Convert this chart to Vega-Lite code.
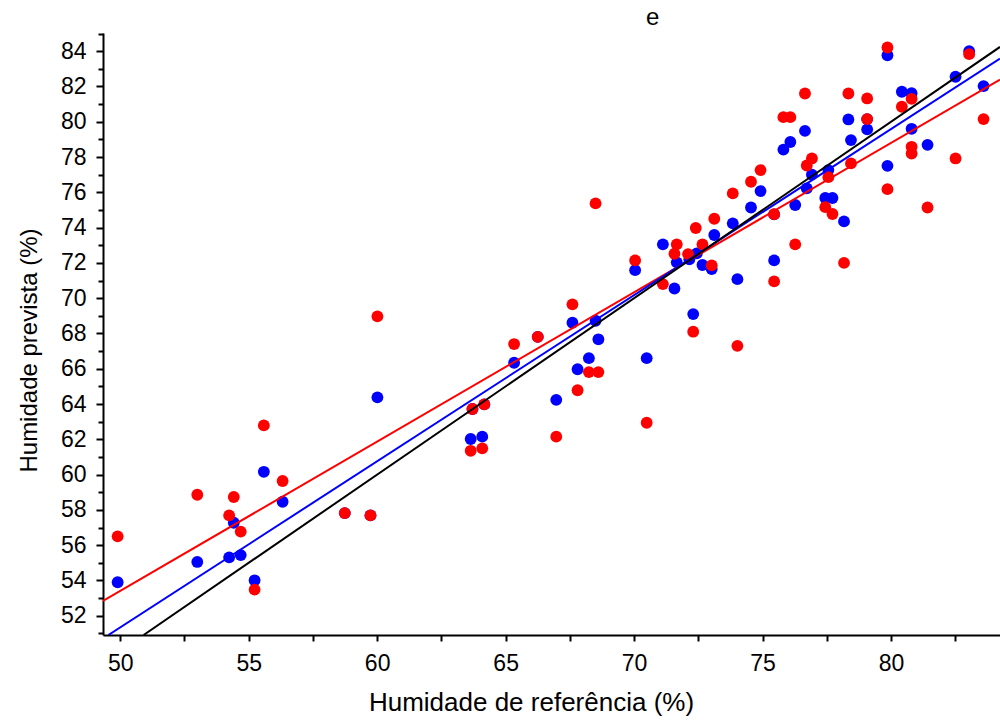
{
  "$schema": "https://vega.github.io/schema/vega-lite/v6.json",
  "width": 897,
  "height": 602,
  "autosize": {"type": "none"},
  "padding": {"left": 103, "top": 33, "right": 0, "bottom": 87},
  "background": "white",
  "title": {"text": "e", "anchor": "start", "frame": "group", "dx": 543, "fontSize": 24, "font": "Liberation Sans", "fontWeight": "normal", "color": "black", "offset": 3},
  "config": {
    "view": {"stroke": null},
    "axis": {"grid": false, "domainColor": "black", "tickColor": "black", "labelColor": "black", "titleColor": "black", "labelFont": "Liberation Sans", "titleFont": "Liberation Sans", "titleFontWeight": "normal", "domainWidth": 2, "tickWidth": 2}
  },
  "datasets": {
    "pts": [
      {"ref": 49.9, "prev": 53.9, "serie": "A"},
      {"ref": 53.0, "prev": 55.05, "serie": "A"},
      {"ref": 54.24, "prev": 55.31, "serie": "A"},
      {"ref": 54.42, "prev": 57.27, "serie": "A"},
      {"ref": 54.69, "prev": 55.44, "serie": "A"},
      {"ref": 55.23, "prev": 54.01, "serie": "A"},
      {"ref": 55.59, "prev": 60.16, "serie": "A"},
      {"ref": 56.32, "prev": 58.46, "serie": "A"},
      {"ref": 58.74, "prev": 57.82, "serie": "A"},
      {"ref": 59.74, "prev": 57.69, "serie": "A"},
      {"ref": 60.01, "prev": 64.38, "serie": "A"},
      {"ref": 63.64, "prev": 62.02, "serie": "A"},
      {"ref": 63.71, "prev": 63.72, "serie": "A"},
      {"ref": 64.09, "prev": 62.15, "serie": "A"},
      {"ref": 64.17, "prev": 63.98, "serie": "A"},
      {"ref": 65.33, "prev": 66.34, "serie": "A"},
      {"ref": 66.25, "prev": 67.81, "serie": "A"},
      {"ref": 66.97, "prev": 64.24, "serie": "A"},
      {"ref": 67.6, "prev": 68.61, "serie": "A"},
      {"ref": 67.8, "prev": 65.97, "serie": "A"},
      {"ref": 68.24, "prev": 66.6, "serie": "A"},
      {"ref": 68.5, "prev": 68.72, "serie": "A"},
      {"ref": 68.61, "prev": 67.67, "serie": "A"},
      {"ref": 70.04, "prev": 71.59, "serie": "A"},
      {"ref": 70.49, "prev": 66.6, "serie": "A"},
      {"ref": 71.12, "prev": 73.05, "serie": "A"},
      {"ref": 71.57, "prev": 70.55, "serie": "A"},
      {"ref": 71.66, "prev": 72.03, "serie": "A"},
      {"ref": 72.15, "prev": 72.2, "serie": "A"},
      {"ref": 72.3, "prev": 69.1, "serie": "A"},
      {"ref": 72.44, "prev": 72.54, "serie": "A"},
      {"ref": 72.66, "prev": 71.88, "serie": "A"},
      {"ref": 73.02, "prev": 71.65, "serie": "A"},
      {"ref": 73.12, "prev": 73.58, "serie": "A"},
      {"ref": 73.84, "prev": 74.24, "serie": "A"},
      {"ref": 74.02, "prev": 71.08, "serie": "A"},
      {"ref": 74.55, "prev": 75.14, "serie": "A"},
      {"ref": 74.92, "prev": 76.07, "serie": "A"},
      {"ref": 75.45, "prev": 72.14, "serie": "A"},
      {"ref": 75.45, "prev": 74.75, "serie": "A"},
      {"ref": 75.81, "prev": 78.42, "serie": "A"},
      {"ref": 76.08, "prev": 78.85, "serie": "A"},
      {"ref": 76.27, "prev": 75.28, "serie": "A"},
      {"ref": 76.65, "prev": 79.48, "serie": "A"},
      {"ref": 76.72, "prev": 76.22, "serie": "A"},
      {"ref": 76.92, "prev": 77.0, "serie": "A"},
      {"ref": 77.44, "prev": 75.68, "serie": "A"},
      {"ref": 77.56, "prev": 77.26, "serie": "A"},
      {"ref": 77.72, "prev": 75.68, "serie": "A"},
      {"ref": 78.17, "prev": 74.35, "serie": "A"},
      {"ref": 78.34, "prev": 80.13, "serie": "A"},
      {"ref": 78.44, "prev": 78.96, "serie": "A"},
      {"ref": 79.07, "prev": 79.57, "serie": "A"},
      {"ref": 79.07, "prev": 80.15, "serie": "A"},
      {"ref": 79.86, "prev": 83.77, "serie": "A"},
      {"ref": 79.86, "prev": 77.5, "serie": "A"},
      {"ref": 80.42, "prev": 81.7, "serie": "A"},
      {"ref": 80.8, "prev": 81.62, "serie": "A"},
      {"ref": 80.8, "prev": 79.6, "serie": "A"},
      {"ref": 81.42, "prev": 78.69, "serie": "A"},
      {"ref": 82.51, "prev": 82.55, "serie": "A"},
      {"ref": 83.04, "prev": 84.0, "serie": "A"},
      {"ref": 83.6, "prev": 82.02, "serie": "A"},
      {"ref": 49.9, "prev": 56.5, "serie": "B"},
      {"ref": 53.0, "prev": 58.86, "serie": "B"},
      {"ref": 54.24, "prev": 57.69, "serie": "B"},
      {"ref": 54.42, "prev": 58.73, "serie": "B"},
      {"ref": 54.69, "prev": 56.77, "serie": "B"},
      {"ref": 55.23, "prev": 53.48, "serie": "B"},
      {"ref": 55.59, "prev": 62.79, "serie": "B"},
      {"ref": 56.32, "prev": 59.64, "serie": "B"},
      {"ref": 58.74, "prev": 57.82, "serie": "B"},
      {"ref": 59.74, "prev": 57.69, "serie": "B"},
      {"ref": 60.01, "prev": 68.97, "serie": "B"},
      {"ref": 63.64, "prev": 61.35, "serie": "B"},
      {"ref": 63.71, "prev": 63.72, "serie": "B"},
      {"ref": 64.09, "prev": 61.49, "serie": "B"},
      {"ref": 64.17, "prev": 63.98, "serie": "B"},
      {"ref": 65.33, "prev": 67.4, "serie": "B"},
      {"ref": 66.25, "prev": 67.81, "serie": "B"},
      {"ref": 66.97, "prev": 62.15, "serie": "B"},
      {"ref": 67.6, "prev": 69.65, "serie": "B"},
      {"ref": 67.8, "prev": 64.78, "serie": "B"},
      {"ref": 68.24, "prev": 65.81, "serie": "B"},
      {"ref": 68.5, "prev": 75.37, "serie": "B"},
      {"ref": 68.61, "prev": 65.81, "serie": "B"},
      {"ref": 70.04, "prev": 72.14, "serie": "B"},
      {"ref": 70.49, "prev": 62.94, "serie": "B"},
      {"ref": 71.12, "prev": 70.8, "serie": "B"},
      {"ref": 71.57, "prev": 72.52, "serie": "B"},
      {"ref": 71.66, "prev": 73.05, "serie": "B"},
      {"ref": 72.1, "prev": 72.5, "serie": "B"},
      {"ref": 72.3, "prev": 68.1, "serie": "B"},
      {"ref": 72.4, "prev": 73.98, "serie": "B"},
      {"ref": 72.66, "prev": 73.05, "serie": "B"},
      {"ref": 73.02, "prev": 71.86, "serie": "B"},
      {"ref": 73.12, "prev": 74.5, "serie": "B"},
      {"ref": 73.84, "prev": 75.94, "serie": "B"},
      {"ref": 74.02, "prev": 67.3, "serie": "B"},
      {"ref": 74.55, "prev": 76.6, "serie": "B"},
      {"ref": 74.92, "prev": 77.26, "serie": "B"},
      {"ref": 75.45, "prev": 70.95, "serie": "B"},
      {"ref": 75.45, "prev": 74.76, "serie": "B"},
      {"ref": 75.81, "prev": 80.26, "serie": "B"},
      {"ref": 76.08, "prev": 80.26, "serie": "B"},
      {"ref": 76.27, "prev": 73.05, "serie": "B"},
      {"ref": 76.65, "prev": 81.6, "serie": "B"},
      {"ref": 76.72, "prev": 77.52, "serie": "B"},
      {"ref": 76.92, "prev": 77.92, "serie": "B"},
      {"ref": 77.44, "prev": 75.16, "serie": "B"},
      {"ref": 77.56, "prev": 76.86, "serie": "B"},
      {"ref": 77.72, "prev": 74.77, "serie": "B"},
      {"ref": 78.17, "prev": 72.0, "serie": "B"},
      {"ref": 78.34, "prev": 81.6, "serie": "B"},
      {"ref": 78.44, "prev": 77.64, "serie": "B"},
      {"ref": 79.07, "prev": 81.32, "serie": "B"},
      {"ref": 79.07, "prev": 80.15, "serie": "B"},
      {"ref": 79.86, "prev": 84.21, "serie": "B"},
      {"ref": 79.86, "prev": 76.18, "serie": "B"},
      {"ref": 80.42, "prev": 80.85, "serie": "B"},
      {"ref": 80.8, "prev": 81.3, "serie": "B"},
      {"ref": 80.8, "prev": 78.58, "serie": "B"},
      {"ref": 80.8, "prev": 78.2, "serie": "B"},
      {"ref": 81.42, "prev": 75.14, "serie": "B"},
      {"ref": 82.51, "prev": 77.92, "serie": "B"},
      {"ref": 83.04, "prev": 83.83, "serie": "B"},
      {"ref": 83.6, "prev": 80.15, "serie": "B"}
    ],
    "fits": [
      {"ref": 49.33, "prev": 52.84, "serie": "B"},
      {"ref": 84.24, "prev": 82.39, "serie": "B"},
      {"ref": 49.54, "prev": 50.91, "serie": "A"},
      {"ref": 84.24, "prev": 83.58, "serie": "A"},
      {"ref": 50.91, "prev": 50.91, "serie": "1:1"},
      {"ref": 84.24, "prev": 84.24, "serie": "1:1"}
    ]
  },
  "layer": [
    {
      "data": {"name": "pts"},
      "mark": {"type": "point", "shape": "circle", "filled": true, "opacity": 1, "size": 140, "strokeWidth": 0},
      "encoding": {
        "x": {"field": "ref", "type": "quantitative",
          "scale": {"domain": [49.33, 84.24], "nice": false, "zero": false},
          "axis": {"orient": "bottom", "values": [50, 55, 60, 65, 70, 75, 80], "tickSize": 6, "labelFontSize": 23, "labelPadding": 11, "title": "Humidade de referência (%)", "titleFontSize": 26, "titlePadding": 14, "titleX": 428}},
        "y": {"field": "prev", "type": "quantitative",
          "scale": {"domain": [50.91, 85.03], "nice": false, "zero": false},
          "axis": {"orient": "left", "values": [52, 54, 56, 58, 60, 62, 64, 66, 68, 70, 72, 74, 76, 78, 80, 82, 84], "tickSize": 7, "labelFontSize": 23, "labelPadding": 10, "title": "Humidade prevista (%)", "titleFontSize": 24, "titlePadding": 19, "titleY": 317}},
        "color": {"field": "serie", "type": "nominal", "scale": {"domain": ["1:1", "A", "B"], "range": ["#000000", "#0000ff", "#ff0000"]}, "legend": null}
      }
    },
    {
      "data": {"name": "fits"},
      "mark": {"type": "line", "strokeWidth": 2, "clip": true},
      "encoding": {
        "x": {"field": "ref", "type": "quantitative",
          "axis": {"orient": "bottom", "values": [52.5, 57.5, 62.5, 67.5, 72.5, 77.5, 82.5], "tickSize": 6, "labels": false, "domain": false, "title": null}},
        "y": {"field": "prev", "type": "quantitative",
          "axis": {"orient": "left", "values": [51, 53, 55, 57, 59, 61, 63, 65, 67, 69, 71, 73, 75, 77, 79, 81, 83, 85], "tickSize": 5, "labels": false, "domain": false, "title": null}},
        "color": {"field": "serie", "type": "nominal", "legend": null}
      }
    }
  ],
  "resolve": {"axis": {"x": "independent", "y": "independent"}}
}
